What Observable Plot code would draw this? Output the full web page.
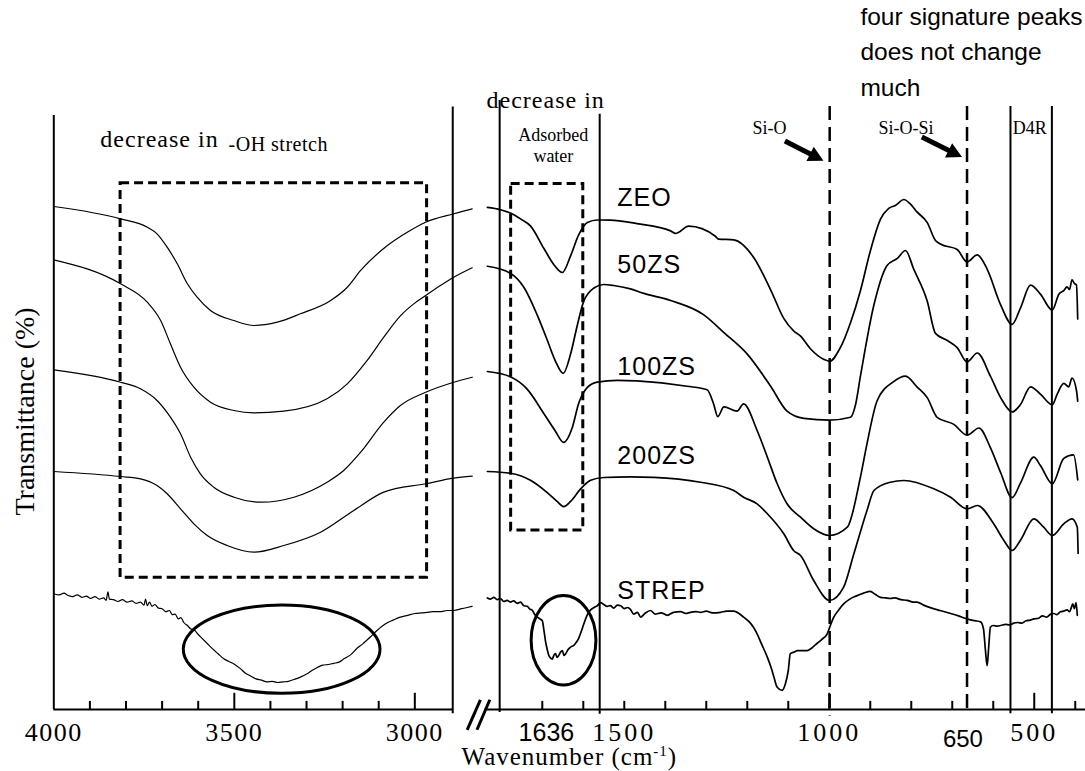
<!DOCTYPE html>
<html><head><meta charset="utf-8">
<script src="https://cdn.jsdelivr.net/npm/d3@7"></script>
<script src="https://cdn.jsdelivr.net/npm/@observablehq/plot@0.6"></script>
<style>html,body{margin:0;padding:0;background:#fff;}#chart{width:1085px;height:771px;}</style>
</head><body><div id="chart"></div>
<script>
// ---------- data (wavenumber cm-1, transmittance, arbitrary offset units) ----------
const sampleNames = ["ZEO", "50ZS", "100ZS", "200ZS", "STREP"];

const zeoLeft = [[4000,83.83],[3815,81.78],[3741,80.38],[3714,79.28],[3686,77.05],[3658,74.28],[3630,70.95],[3603,68.72],[3566,66.5],[3501,64.83],[3446,64.0],[3381,64.55],[3317,65.95],[3233,68.17],[3187,70.38],[3150,73.17],[3076,77.33],[3021,79.55],[2970,81.22],[2892,82.62],[2841,83.45]];
const zs50Left = [[4000,74.95],[3815,70.95],[3741,67.88],[3704,64.83],[3677,60.95],[3649,57.05],[3612,53.72],[3566,51.22],[3501,49.83],[3446,49.45],[3363,49.72],[3243,51.78],[3187,54.28],[3132,58.17],[3086,62.05],[3040,65.6],[3003,67.6],[2970,69.0],[2929,70.67],[2892,72.05],[2841,73.62]];
const zs100Left = [[4000,56.62],[3815,54.55],[3760,53.45],[3714,51.5],[3677,48.72],[3649,45.95],[3621,42.05],[3594,39.28],[3557,37.05],[3501,35.38],[3427,34.55],[3335,35.38],[3243,37.88],[3197,39.83],[3150,42.88],[3086,47.9],[3040,50.67],[2970,52.88],[2892,54.55],[2841,55.38]];
const zs200Left = [[4000,39.67],[3815,38.83],[3760,38.45],[3714,37.33],[3686,35.95],[3649,33.45],[3612,30.95],[3575,29.0],[3520,27.33],[3446,26.22],[3363,27.33],[3261,29.55],[3169,33.17],[3086,36.22],[2970,37.62],[2892,38.55],[2841,38.88]];
const strepLeft = [[4000,19.3],[3985,19.1],[3972,19.4],[3960,19.0],[3948,18.8],[3935,19.1],[3922,18.7],[3910,18.9],[3898,18.5],[3886,18.8],[3874,18.4],[3862,18.6],[3855,18.2],[3850,19.6],[3846,18.4],[3835,18.3],[3822,18.0],[3810,18.3],[3797,17.9],[3784,18.1],[3772,17.7],[3760,17.9],[3750,17.4],[3746,18.4],[3741,17.3],[3735,17.9],[3728,17.2],[3720,17.5],[3710,16.9],[3700,16.8],[3690,16.3],[3680,16.5],[3672,15.8],[3664,15.9],[3655,15.1],[3648,15.3],[3640,14.5],[3630,14.0],[3620,13.4],[3610,13.2],[3600,12.5],[3590,11.9],[3575,11.0],[3560,10.1],[3545,9.3],[3530,8.5],[3515,8.0],[3501,7.6],[3485,6.9],[3470,6.1],[3455,5.6],[3440,5.1],[3425,4.9],[3410,4.6],[3395,4.7],[3380,4.5],[3365,4.6],[3350,4.7],[3335,5.0],[3317,5.4],[3300,5.9],[3285,6.5],[3270,7.0],[3255,7.4],[3240,7.5],[3225,7.7],[3210,7.9],[3195,8.5],[3178,9.1],[3160,10.2],[3145,10.9],[3132,11.6],[3118,12.4],[3104,13.2],[3090,13.9],[3075,14.5],[3060,14.9],[3040,15.4],[3020,15.7],[3000,16.0],[2980,16.1],[2966,16.2],[2950,16.3],[2930,16.3],[2910,16.5],[2892,16.5],[2870,16.8],[2855,17.0],[2841,17.2]];

const zeoRight = [[1834,83.68],[1802,83.3],[1778,82.75],[1753,81.77],[1729,80.6],[1696,76.83],[1672,74.17],[1651,72.83],[1631,75.6],[1611,79.13],[1590,81.17],[1566,81.58],[1534,81.57],[1469,80.97],[1387,79.77],[1375,79.35],[1343,80.55],[1278,78.88],[1270,78.4],[1233,78.28],[1184,75.3],[1143,69.95],[1111,65.18],[1087,63.1],[1070,62.22],[1046,60.13],[1013,58.35],[999,58.05],[973,60.3],[948,64.5],[924,69.8],[900,76.38],[875,81.73],[855,83.52],[839,84.0],[818,85.0],[802,84.23],[786,82.93],[761,81.15],[741,78.17],[729,77.57],[688,76.68],[664,74.6],[639,75.78],[615,73.4],[582,67.45],[554,64.18],[534,66.85],[509,70.73],[485,69.23],[456,66.57],[440,69.2],[428,69.83],[420,70.43],[414,70.0],[408,71.62],[402,71.0],[397,70.73],[394,65.07]];
const zs50Right = [[1834,73.87],[1778,72.7],[1745,70.37],[1712,65.68],[1688,61.58],[1668,58.08],[1649,56.03],[1631,59.25],[1615,63.93],[1599,68.02],[1574,70.25],[1550,70.83],[1526,70.67],[1485,70.1],[1452,69.35],[1387,68.17],[1306,65.78],[1257,62.82],[1200,59.23],[1143,53.88],[1103,49.72],[1062,48.52],[999,48.23],[948,48.7],[936,50.78],[924,55.55],[891,67.45],[859,74.0],[834,75.18],[814,76.5],[794,73.4],[761,68.05],[741,62.68],[712,61.5],[688,60.32],[664,57.93],[639,59.42],[607,55.55],[582,51.98],[554,49.6],[534,50.78],[509,53.77],[485,52.57],[456,50.78],[444,52.57],[428,54.35],[416,53.77],[408,55.25],[397,53.17],[394,51.38]];
const zs100Right = [[1834,56.33],[1778,55.45],[1737,53.4],[1696,49.3],[1668,46.38],[1648,44.52],[1627,46.97],[1611,51.07],[1590,53.7],[1566,54.57],[1517,54.87],[1469,54.77],[1347,53.88],[1298,53.28],[1282,50.9],[1272,48.82],[1257,50.43],[1225,49.72],[1209,50.95],[1176,46.5],[1151,42.05],[1127,37.62],[1103,34.28],[1070,32.05],[1038,30.12],[999,29.0],[956,30.38],[924,38.72],[908,44.28],[883,51.5],[843,54.65],[814,55.55],[786,53.77],[761,51.98],[737,48.7],[696,47.52],[664,45.73],[635,46.92],[607,43.65],[582,39.48],[554,35.32],[534,37.68],[501,42.05],[485,40.67],[456,37.62],[428,41.85],[404,42.45],[394,38.28]];
const zs200Right = [[1834,39.67],[1778,39.37],[1729,38.2],[1688,36.15],[1664,34.68],[1648,33.82],[1631,34.68],[1607,36.73],[1582,38.2],[1550,38.67],[1485,38.78],[1428,38.7],[1314,37.88],[1233,36.5],[1209,35.38],[1176,34.28],[1151,32.62],[1111,29.28],[1087,26.5],[1070,25.67],[1038,21.5],[999,18.17],[965,20.38],[940,25.95],[908,33.17],[891,36.5],[851,37.88],[818,38.17],[745,36.78],[704,35.38],[664,33.45],[639,34.0],[599,30.95],[574,28.17],[554,26.5],[534,28.17],[501,31.78],[477,30.38],[456,29.0],[428,30.95],[408,31.78],[395,30.38],[393,26.0]];
const strepRight = [[1834,18.6],[1826,18.4],[1818,18.7],[1810,18.3],[1802,18.5],[1794,18.0],[1786,18.2],[1778,17.9],[1770,18.1],[1761,17.7],[1753,17.9],[1745,17.3],[1737,17.2],[1730,16.7],[1725,16.6],[1718,15.8],[1712,15.4],[1706,15.1],[1700,14.8],[1696,13.2],[1692,11.3],[1688,10.0],[1684,9.0],[1680,8.6],[1676,8.4],[1672,9.0],[1668,9.3],[1664,8.7],[1660,9.0],[1655,9.6],[1651,9.8],[1647,9.0],[1643,9.3],[1637,10.0],[1631,10.4],[1623,10.7],[1617,11.2],[1611,11.9],[1605,13.0],[1599,14.2],[1590,15.8],[1582,16.6],[1574,17.0],[1566,17.3],[1558,17.8],[1550,17.5],[1542,17.2],[1534,17.3],[1526,16.9],[1517,17.4],[1509,17.3],[1500,16.8],[1492,17.0],[1485,16.7],[1477,15.9],[1468,16.2],[1460,15.4],[1450,16.0],[1436,16.5],[1425,15.9],[1410,16.1],[1395,15.7],[1380,16.2],[1363,16.3],[1350,16.0],[1339,16.2],[1325,16.3],[1314,16.2],[1300,16.4],[1285,16.1],[1265,16.2],[1250,16.4],[1233,16.4],[1220,16.0],[1209,15.4],[1195,14.6],[1185,13.7],[1176,12.6],[1165,10.9],[1151,8.7],[1140,6.6],[1135,5.4],[1127,3.7],[1115,3.2],[1107,4.3],[1100,6.5],[1095,9.3],[1085,9.6],[1078,9.8],[1066,9.8],[1054,9.8],[1042,10.3],[1030,11.0],[1018,11.7],[1005,12.6],[999,13.7],[989,15.4],[977,16.6],[965,17.6],[950,18.4],[935,18.9],[916,19.4],[900,19.7],[888,19.2],[875,18.7],[863,18.6],[851,18.5],[840,18.6],[825,18.3],[810,18.2],[795,17.9],[786,17.9],[770,17.4],[750,16.9],[730,16.5],[704,16.0],[685,15.6],[664,15.1],[645,14.8],[631,14.6],[624,13.5],[619,9.8],[615,7.3],[611,10.5],[607,13.7],[600,14.0],[590,13.9],[582,14.0],[570,14.2],[560,14.1],[550,14.4],[540,14.5],[530,14.4],[520,14.8],[510,14.9],[501,15.1],[490,15.2],[480,15.6],[470,15.4],[460,15.9],[452,16.0],[445,15.8],[436,16.3],[428,16.4],[420,16.6],[414,16.3],[410,16.9],[406,17.6],[402,16.8],[398,17.8],[395,15.7]];

// tick values and tick labels
const leftMinorTicks = [3900, 3800, 3700, 3600, 3400, 3300, 3200, 3100];
const leftMajorTicks = [3500, 3000];
const rightMinorTicks = [1700, 1600, 1500, 1400, 1300, 1200, 1100, 900, 800, 700, 600, 400];
const rightMajorTicks = [1000, 500];
const leftTickLabels = [{w: 4000, label: "4000"}, {w: 3500, label: "3500"}, {w: 3000, label: "3000"}];
const rightTickLabels = [{w: 1500, label: "1500"}, {w: 1000, label: "1000"}, {w: 500, label: "500"}];
const sansTickLabels = [{w: 1690, label: "1636", t: -5.17, size: 25}, {w: 674, label: "650", t: -6.3, size: 24}];

// annotation anchors (data space)
const sampleLabelAt = [84.0, 72.67, 55.83, 40.92, 18.42];
const solidGuides = [{w: 4000, t1: 99, t2: 0}, {w: 2895, t1: 100.4, t2: -0.7}, {w: 1804, t1: 101.5, t2: -0.5}, {w: 1560, t1: 99.2, t2: -0.8}, {w: 558, t1: 100.5, t2: -0.7}, {w: 457, t1: 100.5, t2: -0.7}];
const dashedGuides = [{w: 999, t1: 100.5, t2: -1.1}, {w: 664, t1: 100.5, t2: -1.0}];
const axisSegments = [{a: 4000, b: 2895}, {a: 1840, b: 375}];
const dashedBoxes = [{w1: 3815, w2: 2966, t1: 87.72, t2: 21.95}, {w1: 1776, w2: 1600, t1: 87.58, t2: 29.83}];
const ellipses = [{w1: 3640, w2: 3095, t1: 17.33, t2: 2.62}, {w1: 1726, w2: 1568, t1: 18.9, t2: 4.0}];
const arrows = [{w1: 1107, t1: 94.67, w2: 1013, t2: 91.38}, {w1: 773, t1: 95.33, w2: 675, t2: 92.0}];
const breakMarks = [{w1: 2855, t1: -3.38, w2: 1851, t2: 1.62}, {w1: 1859.3, t1: -3.38, w2: 1828, t2: 1.62}];

// ---------- build table ----------
const rows = [];
function add(sample, part, arr) { for (const [w, t] of arr) rows.push({sample, part, w, t}); }
add(sampleNames[0], "L", zeoLeft); add(sampleNames[1], "L", zs50Left); add(sampleNames[2], "L", zs100Left); add(sampleNames[3], "L", zs200Left); add(sampleNames[4], "L", strepLeft);
add(sampleNames[0], "R", zeoRight); add(sampleNames[1], "R", zs50Right); add(sampleNames[2], "R", zs100Right); add(sampleNames[3], "R", zs200Right); add(sampleNames[4], "R", strepRight);
const sampleLabels = sampleNames.map((s, i) => ({s, t: sampleLabelAt[i]}));

const serif = "'Liberation Serif', 'Times New Roman', serif";
const sans = "'Liberation Sans', Arial, sans-serif";
const ns = "http://www.w3.org/2000/svg";

const ellipseMark = (index, scales) => {
  const g = document.createElementNS(ns, "g");
  for (const e of ellipses) {
    const xa = scales.x(e.w1), xb = scales.x(e.w2), ya = scales.y(e.t1), yb = scales.y(e.t2);
    const el = document.createElementNS(ns, "ellipse");
    el.setAttribute("cx", (xa + xb) / 2); el.setAttribute("cy", (ya + yb) / 2);
    el.setAttribute("rx", Math.abs(xb - xa) / 2); el.setAttribute("ry", Math.abs(yb - ya) / 2);
    el.setAttribute("fill", "none"); el.setAttribute("stroke", "black"); el.setAttribute("stroke-width", 3);
    g.appendChild(el);
  }
  return g;
};

// thick arrows with filled heads, positioned through the plot's scales
const arrowMark = (index, scales) => {
  const g = document.createElementNS(ns, "g");
  for (const a of arrows) {
    const x1 = scales.x(a.w1), y1 = scales.y(a.t1), x2 = scales.x(a.w2), y2 = scales.y(a.t2);
    const ang = Math.atan2(y2 - y1, x2 - x1), hl = 15, hw = 8;
    const bx = x2 - hl * Math.cos(ang), by = y2 - hl * Math.sin(ang);
    const ln = document.createElementNS(ns, "line");
    ln.setAttribute("x1", x1); ln.setAttribute("y1", y1); ln.setAttribute("x2", bx + 2 * Math.cos(ang)); ln.setAttribute("y2", by + 2 * Math.sin(ang));
    ln.setAttribute("stroke", "black"); ln.setAttribute("stroke-width", 5);
    const hd = document.createElementNS(ns, "polygon");
    hd.setAttribute("points", `${x2},${y2} ${bx + hw * Math.sin(ang)},${by - hw * Math.cos(ang)} ${bx - hw * Math.sin(ang)},${by + hw * Math.cos(ang)}`);
    hd.setAttribute("fill", "black");
    g.append(ln, hd);
  }
  return g;
};

const isL = d => d.part === "L";
const plot = Plot.plot({
  width: 1085, height: 771,
  marginTop: 0, marginRight: 0, marginBottom: 0, marginLeft: 0,
  style: {background: "white", color: "black", overflow: "visible", fontFamily: serif},
  x: {type: "linear", domain: [4000, 2830, 1860, 375], range: [53.3, 475.7, 476.2, 1085], axis: null},
  y: {domain: [0, 100], range: [709, 109], axis: null},
  marks: [
    Plot.ruleY(axisSegments, {y: 0, x1: "a", x2: "b", stroke: "black", strokeWidth: 2}),
    Plot.ruleX(solidGuides, {x: "w", y1: "t1", y2: "t2", stroke: "black", strokeWidth: 2}),
    Plot.ruleX(dashedGuides, {x: "w", y1: "t1", y2: "t2", stroke: "black", strokeWidth: 2.5, strokeDasharray: "14,7"}),
    Plot.ruleX(leftMinorTicks.concat(rightMinorTicks), {x: d => d, y1: 0, y2: 1.35, stroke: "black", strokeWidth: 2}),
    Plot.ruleX(leftMajorTicks.concat(rightMajorTicks), {x: d => d, y1: 0, y2: 2.7, stroke: "black", strokeWidth: 2}),
    Plot.link(breakMarks, {x1: "w1", y1: "t1", x2: "w2", y2: "t2", stroke: "black", strokeWidth: 3}),
    Plot.rect(dashedBoxes, {x1: "w1", x2: "w2", y1: "t1", y2: "t2", fill: "none", stroke: "black", strokeWidth: 3, strokeDasharray: "9,5"}),
    ellipseMark,
    Plot.line(rows.filter(isL), {x: "w", y: "t", z: "sample", stroke: "black", strokeWidth: 1.2, curve: "monotone-x"}),
    Plot.line(rows.filter(d => !isL(d)), {x: "w", y: "t", z: "sample", stroke: "black", strokeWidth: 1.7, curve: "monotone-x"}),
    arrowMark,
    Plot.text(leftTickLabels, {x: "w", y: -5.17, text: "label", fontFamily: serif, fontSize: 26, lineAnchor: "bottom", fill: "black", ariaDescription: "tl-left"}),
    Plot.text(rightTickLabels, {x: "w", y: -5.17, text: "label", fontFamily: serif, fontSize: 26, lineAnchor: "bottom", fill: "black", ariaDescription: "tl-right"}),
    Plot.text(sansTickLabels, {x: "w", y: "t", text: "label", fontFamily: sans, fontSize: d => d.size, lineAnchor: "bottom", fill: "black"}),
    Plot.text(["Wavenumber (cm-1)"], {x: 1634, y: -9.33, text: d => d, fontFamily: serif, fontSize: 25, lineAnchor: "bottom", fill: "black", ariaDescription: "xlabel"}),
    Plot.text(["Transmittance (%)"], {x: 4055, y: 49.67, text: d => d, rotate: -90, fontFamily: serif, fontSize: 28, lineAnchor: "bottom", textAnchor: "middle", fill: "black"}),
    Plot.text(sampleLabels, {x: 1517, y: "t", text: "s", fontFamily: sans, fontSize: 25, textAnchor: "start", lineAnchor: "bottom", fill: "black", ariaDescription: "samples"}),
    Plot.text(["decrease in"], {x: 3871, y: 93.72, text: d => d, fontFamily: serif, fontSize: 24, textAnchor: "start", lineAnchor: "bottom", fill: "black", ariaDescription: "dec"}),
    Plot.text(["-OH stretch"], {x: 3516, y: 93.05, text: d => d, fontFamily: serif, fontSize: 20, textAnchor: "start", lineAnchor: "bottom", fill: "black", ariaDescription: "oh"}),
    Plot.text(["decrease in"], {x: 1836, y: 100.17, text: d => d, fontFamily: serif, fontSize: 24, textAnchor: "start", lineAnchor: "bottom", fill: "black", ariaDescription: "dec"}),
    Plot.text(["Adsorbed\nwater"], {x: 1673, y: 91.22, text: d => d, fontFamily: serif, fontSize: 18, lineHeight: 1.2, textAnchor: "middle", lineAnchor: "bottom", fill: "black"}),
    Plot.text(["Si-O"], {x: 1146, y: 96.0, text: d => d, fontFamily: serif, fontSize: 18, lineAnchor: "bottom", fill: "black"}),
    Plot.text(["Si-O-Si"], {x: 813, y: 96.0, text: d => d, fontFamily: serif, fontSize: 18, lineAnchor: "bottom", fill: "black"}),
    Plot.text(["D4R"], {x: 511, y: 96.0, text: d => d, fontFamily: serif, fontSize: 18, lineAnchor: "bottom", fill: "black"}),
    Plot.text(["four signature peaks\ndoes not change\nmuch"], {x: 924, y: 102.33, text: d => d, fontFamily: sans, fontSize: 24.5, lineHeight: 1.43, textAnchor: "start", lineAnchor: "bottom", fill: "black"})
  ]
});

const svg = plot;
function styleTexts(desc, styles) { svg.querySelectorAll(`g[aria-description="${desc}"] text`).forEach(t => Object.assign(t.style, styles)); }
styleTexts("tl-left", {letterSpacing: "1.5px", fontFamily: serif});
styleTexts("tl-right", {letterSpacing: "3px", fontFamily: serif});
styleTexts("samples", {letterSpacing: "1px"});
styleTexts("dec", {letterSpacing: "1px"});
styleTexts("oh", {letterSpacing: "0.5px"});
styleTexts("xlabel", {letterSpacing: "1px"});
svg.querySelectorAll('g[aria-description="xlabel"] text').forEach(t => {
  t.textContent = "";
  const a = document.createElementNS(ns, "tspan"); a.textContent = "Wavenumber (cm";
  const b = document.createElementNS(ns, "tspan"); b.textContent = "-1"; b.setAttribute("dy", "-9"); b.setAttribute("font-size", "15");
  const c = document.createElementNS(ns, "tspan"); c.textContent = ")"; c.setAttribute("dy", "9");
  t.append(a, b, c);
});
document.getElementById("chart").appendChild(svg);
</script></body></html>
